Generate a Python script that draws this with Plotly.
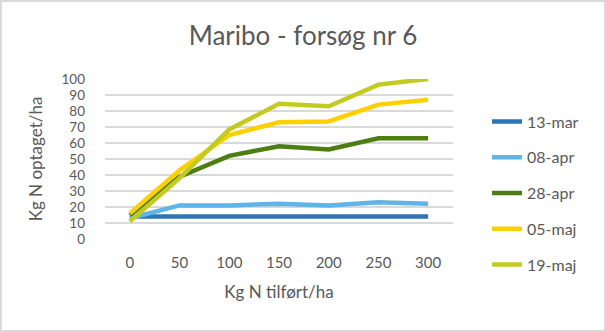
import plotly.graph_objects as go

x_labels = ["0", "50", "100", "150", "200", "250", "300"]
series_names = ["13-mar", "08-apr", "28-apr", "05-maj", "19-maj"]
v_13mar = [14, 14, 14, 14, 14, 14, 14]
v_08apr = [13, 21, 21, 22, 21, 23, 22]
v_28apr = [15, 39, 52, 58, 56, 63, 63]
v_05maj = [16, 43, 65, 73, 73.5, 84, 87]
v_19maj = [11, 38, 68.5, 84.5, 83, 96.5, 100]
colors = ["#2E75B6", "#5FB4E8", "#4E7D12", "#FFD000", "#C3CB20"]

values = [v_13mar, v_08apr, v_28apr, v_05maj, v_19maj]
font = "Lato, 'Noto Sans', sans-serif"
grey = "#595959"

fig = go.Figure()
for i, (name, vals) in enumerate(zip(series_names, values)):
    fig.add_trace(go.Scatter(
        x=list(range(len(x_labels))), y=vals, name=name, mode="lines",
        line=dict(color=colors[i], width=4.5),
        legendgroup=name,
    ))

fig.update_layout(
    width=606, height=332,
    margin=dict(l=105, r=153, t=79, b=93, autoexpand=False),
    paper_bgcolor="white", plot_bgcolor="white",
    font=dict(family=font, color=grey, size=15),
    title=dict(text="Maribo - forsøg nr 6", x=0.5, xanchor="center",
               y=1 - 36 / 332, yanchor="middle",
               font=dict(size=26, color=grey, family=font)),
    xaxis=dict(tickmode="array", tickvals=list(range(len(x_labels))), ticktext=x_labels,
               range=[-0.5, 6.5], showgrid=False, zeroline=False, showline=False,
               ticks="", tickfont=dict(size=15, color=grey), ticklabelstandoff=13,
               title=dict(text="Kg N tilført/ha", font=dict(size=17, color=grey), standoff=16)),
    yaxis=dict(range=[0, 100], dtick=10, showgrid=True, gridcolor="#D9D9D9", gridwidth=1.5,
               zeroline=False, showline=False, ticks="", tickfont=dict(size=13.5, color=grey),
               ticklabelstandoff=19,
               title=dict(text="Kg N optaget/ha", font=dict(size=17, color=grey), standoff=14)),
    legend=dict(xref="container", x=487 / 606, xanchor="left",
                yref="container", y=1 - 193 / 332, yanchor="middle",
                font=dict(size=16, color=grey), tracegroupgap=12, maxheight=1,
                itemwidth=30, bgcolor="rgba(0,0,0,0)"),
)
# outer border of the chart area
fig.add_shape(type="rect", xref="x domain", yref="y domain",
              x0=-104 / 348, x1=1 + 152 / 348, y0=-92 / 160, y1=1 + 78 / 160,
              line=dict(color="#D9D9D9", width=2), layer="below")

fig.write_html("out.html")
